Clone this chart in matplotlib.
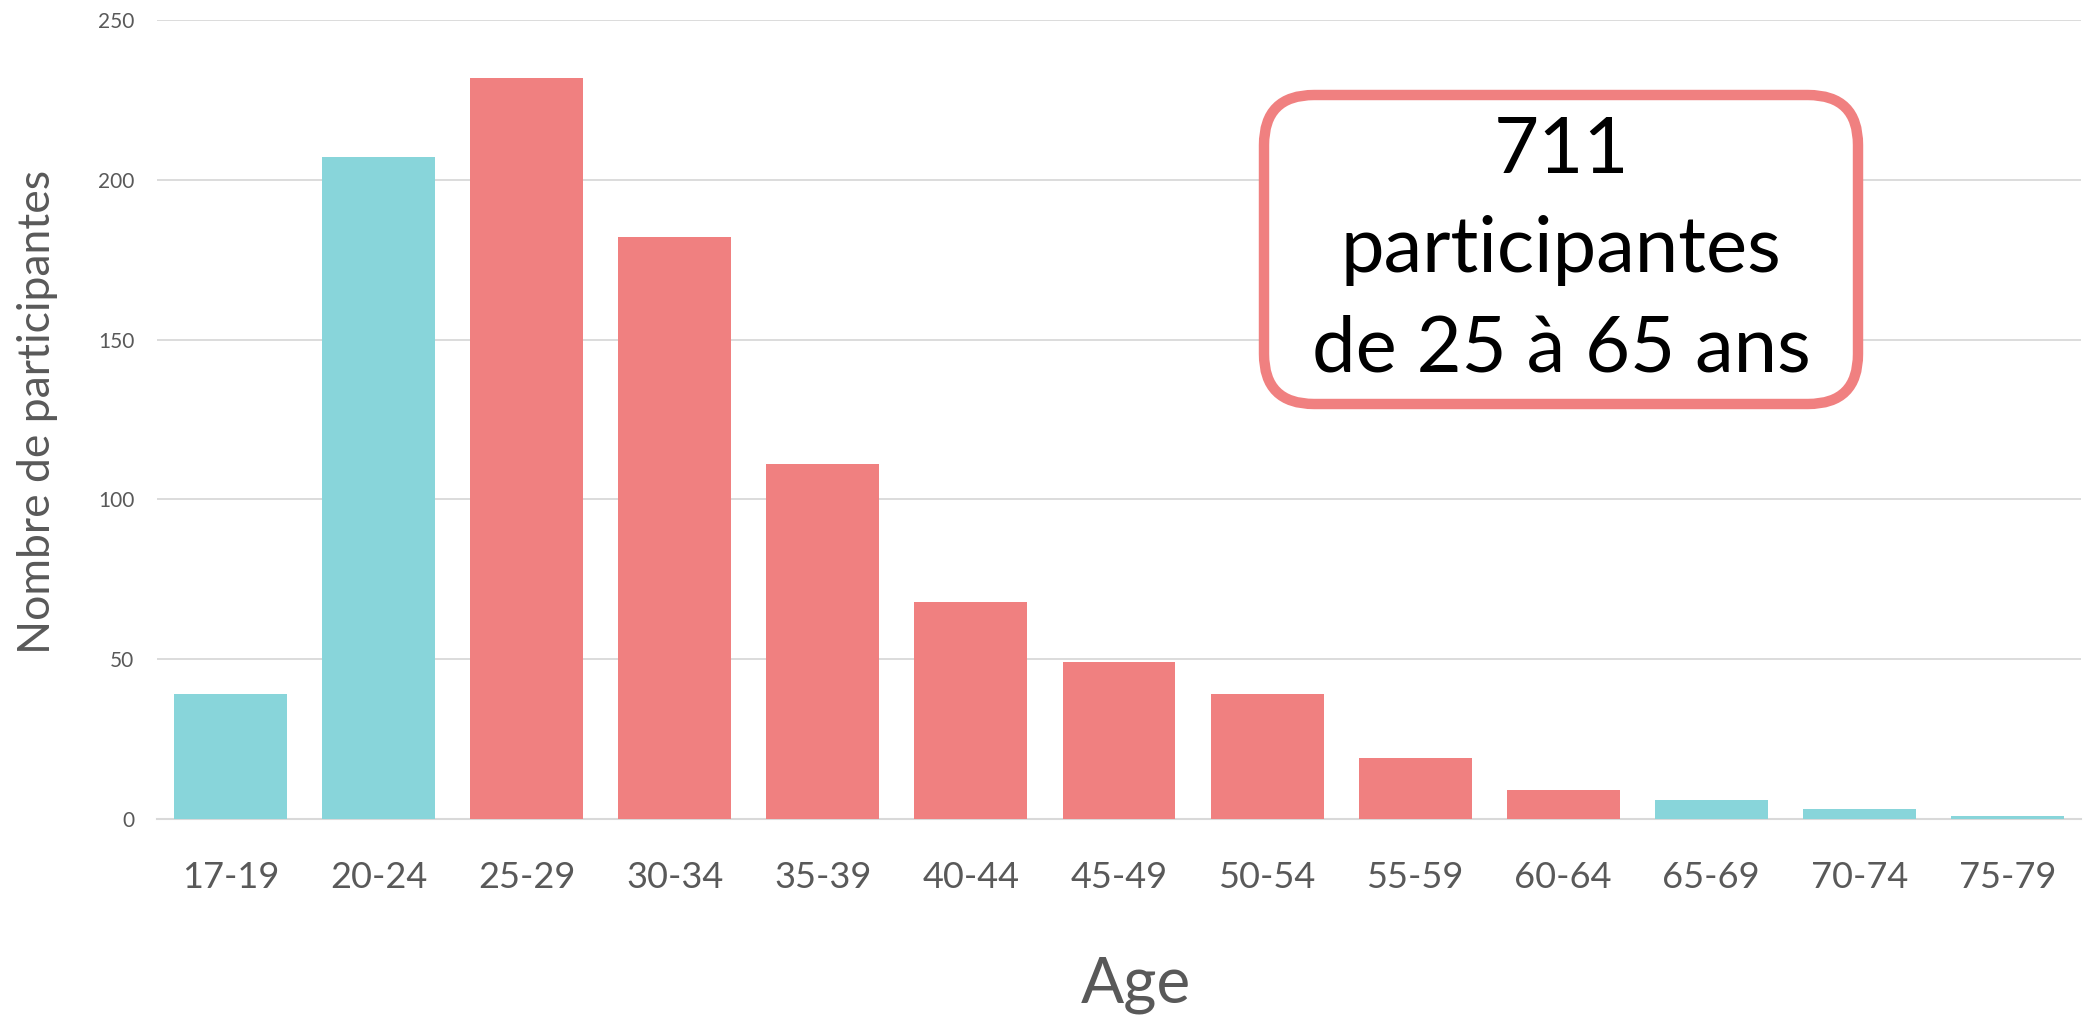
import matplotlib
matplotlib.use("Agg")
import matplotlib.pyplot as plt
from matplotlib.patches import FancyBboxPatch

plt.rcParams["font.family"] = ["Lato", "DejaVu Sans"]

# données
tranches = ["17-19", "20-24", "25-29", "30-34", "35-39", "40-44", "45-49",
            "50-54", "55-59", "60-64", "65-69", "70-74", "75-79"]
nombres = [39, 207, 232, 182, 111, 68, 49, 39, 19, 9, 6, 3, 1]
dans_cible = [False, False, True, True, True, True, True, True, True, True,
              False, False, False]

rouge = "#F08080"
turquoise = "#88D5DA"
gris = "#595959"

fig = plt.figure(figsize=(20.84, 10.21), dpi=100)
ax = fig.add_axes([0.0751, 0.1978, 0.9237, 0.7826])

couleurs = [rouge if c else turquoise for c in dans_cible]
ax.bar(range(len(tranches)), nombres, width=0.763, color=couleurs, zorder=3)

ax.set_xlim(-0.5, len(tranches) - 0.5)
ax.set_ylim(0, 250)
ax.set_yticks(range(0, 251, 50))
ax.set_xticks(range(len(tranches)))
ax.set_xticklabels(tranches)

ax.grid(axis="y", color="#D9D9D9", linewidth=1.3, zorder=0)
for s in ["top", "right", "left"]:
    ax.spines[s].set_visible(False)
ax.spines["bottom"].set_color("#D9D9D9")
ax.spines["bottom"].set_linewidth(1.5)
ax.tick_params(axis="both", length=0)
ax.tick_params(axis="y", labelsize=15, labelcolor=gris, pad=16)
ax.tick_params(axis="x", labelsize=26, labelcolor=gris, pad=30)

fig.text(38 / 2084, 1 - 412 / 1021, "Nombre de participantes", rotation=90,
         ha="center", va="center", fontsize=32, color=gris)
fig.text(1136 / 2084, 1 - 985 / 1021, "Age", ha="center", va="center",
         fontsize=46, color=gris)

# encadré
boite = FancyBboxPatch((12.64, 10.21 - 4.04), 5.94, 3.09,
                       boxstyle="round,pad=0,rounding_size=0.5",
                       transform=fig.dpi_scale_trans, facecolor="white",
                       edgecolor=rouge, linewidth=7.5, zorder=5)
fig.patches.append(boite)
fig.text(1561 / 2084, 1 - 251 / 1021, "711\nparticipantes\nde 25 à 65 ans",
         ha="center", va="center", fontsize=56, color="black",
         linespacing=1.5, zorder=6)

fig.savefig("out.png", dpi=100)
